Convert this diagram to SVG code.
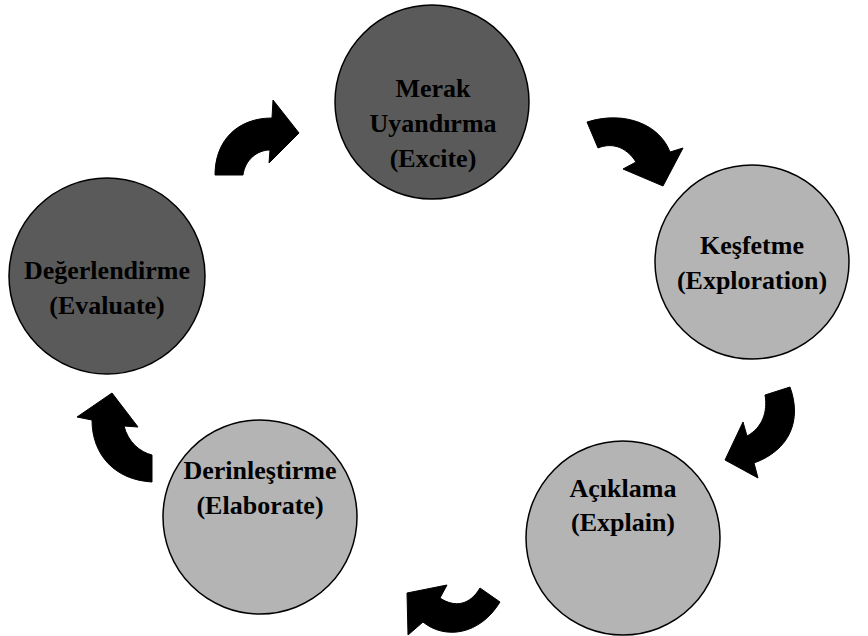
<svg xmlns="http://www.w3.org/2000/svg" width="868" height="636" viewBox="0 0 868 636">
<style>
.dark{fill:#5a5a5a;stroke:#000;stroke-width:1.5}
.light{fill:#b4b4b4;stroke:#000;stroke-width:1.5}
.lbl{font-family:"Liberation Serif","Times New Roman",serif;font-weight:bold;font-size:26px;fill:#000;text-anchor:middle}
.arr{fill:#000;stroke:#000;stroke-width:1;stroke-linejoin:miter}
</style>
<rect width="868" height="636" fill="#fff"/>
<g id="connectors">
<path class="arr" d="M215,175 C215,140 238,118 272,118 L273,100 L299,133 L269,163 L270,150 C257,150 245,160 243,175 Z"/>
<path class="arr" d="M587,122 C625,110 660,125 670,152 L683,148 L663,186 L623,169 L636,162 C625,145 610,143 598,148 Z"/>
<path class="arr" d="M765,395 L790,387 C802,420 790,450 754,463 L758,478 L725,460 L743,422 L747,436 C762,428 768,412 765,395 Z"/>
<path class="arr" d="M480,588 L500,602 C480,635 445,640 423,622 L408,635 L407,593 L447,585 L440,598 C455,608 470,605 480,588 Z"/>
<path class="arr" d="M152,455 L152,482 C115,480 92,455 92,420 L77,417 L112,393 L138,427 L124,426 C128,442 140,452 152,455 Z"/>
</g>
<g id="merak">
<ellipse class="dark" cx="432" cy="102" rx="97" ry="97"/>
<text class="lbl" x="433" y="97">Merak</text>
<text class="lbl" x="433" y="132">Uyandırma</text>
<text class="lbl" x="433" y="167">(Excite)</text>
</g>
<g id="kesfetme">
<ellipse class="light" cx="752" cy="262" rx="97" ry="97"/>
<text class="lbl" x="752" y="254">Keşfetme</text>
<text class="lbl" x="752" y="289">(Exploration)</text>
</g>
<g id="aciklama">
<ellipse class="light" cx="623" cy="538" rx="97" ry="97"/>
<text class="lbl" x="623" y="497">Açıklama</text>
<text class="lbl" x="623" y="531">(Explain)</text>
</g>
<g id="derinlestirme">
<ellipse class="light" cx="260" cy="517" rx="97" ry="97"/>
<text class="lbl" x="260" y="479">Derinleştirme</text>
<text class="lbl" x="260" y="514">(Elaborate)</text>
</g>
<g id="degerlendirme">
<ellipse class="dark" cx="107" cy="276" rx="98" ry="98"/>
<text class="lbl" x="107" y="279">Değerlendirme</text>
<text class="lbl" x="107" y="314">(Evaluate)</text>
</g>
</svg>
